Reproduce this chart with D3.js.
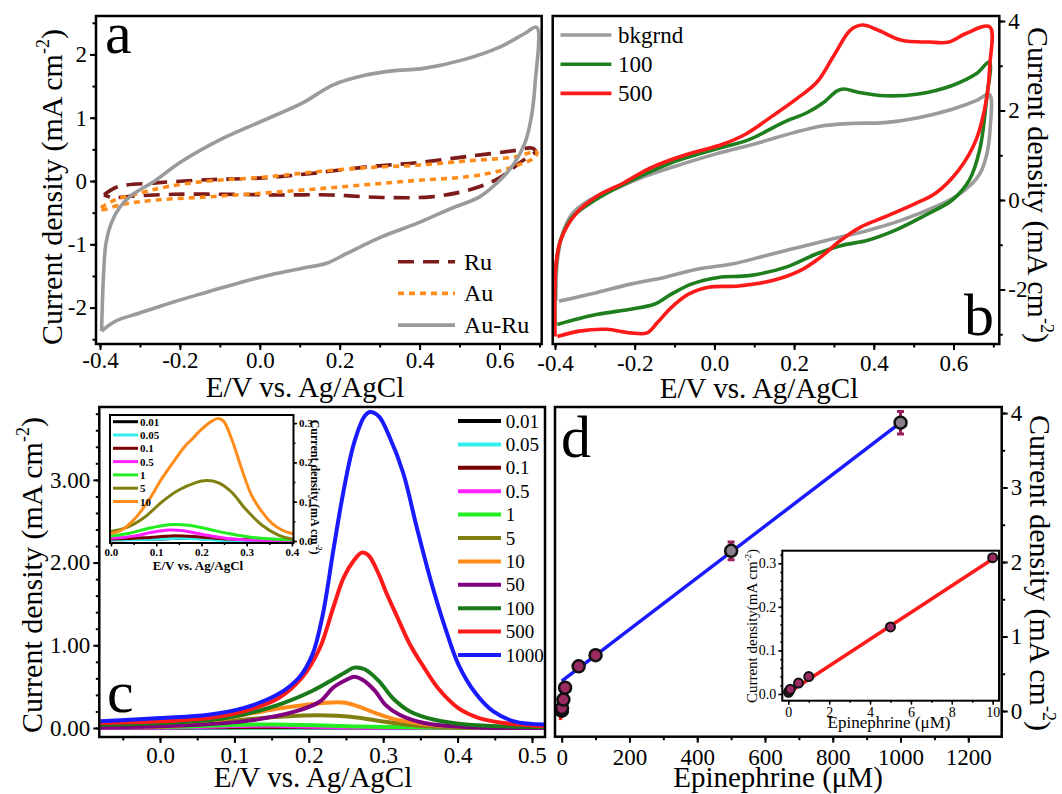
<!DOCTYPE html>
<html lang="en">
<head>
<meta charset="utf-8">
<title>Au-Ru CV / DPV of epinephrine</title>
<script src="https://cdn.jsdelivr.net/npm/d3@7/dist/d3.min.js"></script>
<style>
  body { margin: 0; background: #fff; }
  text { font-family: "Liberation Serif", "Times New Roman", serif; fill: #000; }
</style>
</head>
<body>
<script>

// ---------- data ----------

// panel a: CV loops, [E (V), j (mA cm-2)]
var cvRu = [[-0.39,-0.22],[-0.355,-0.09],[-0.26,-0.03],[-0.13,0.02],[0.01,0.05],[0.13,0.12],[0.263,0.22],
  [0.393,0.29],[0.523,0.39],[0.637,0.48],[0.68,0.52],[0.69,0.47],[0.66,0.33],[0.637,0.22],[0.6,0.05],
  [0.567,-0.05],[0.506,-0.17],[0.428,-0.25],[0.306,-0.26],[0.176,-0.22],[0.045,-0.22],[-0.085,-0.21],
  [-0.216,-0.21],[-0.32,-0.24],[-0.37,-0.26],[-0.39,-0.22]];
var cvAu = [[-0.398,-0.42],[-0.363,-0.3],[-0.3,-0.19],[-0.233,-0.09],[-0.129,0.0],[0.01,0.06],[0.132,0.14],
  [0.263,0.21],[0.393,0.25],[0.523,0.32],[0.637,0.38],[0.693,0.46],[0.69,0.38],[0.654,0.27],[0.6,0.16],
  [0.523,0.07],[0.393,0.01],[0.263,-0.06],[0.132,-0.13],[0.01,-0.19],[-0.129,-0.25],[-0.259,-0.3],
  [-0.346,-0.37],[-0.394,-0.45],[-0.398,-0.42]];
var cvAuRu = [[-0.396,-2.37],[-0.391,-1.46],[-0.385,-0.98],[-0.372,-0.67],[-0.35,-0.41],[-0.32,-0.22],
  [-0.263,0.0],[-0.198,0.3],[-0.094,0.67],[0.01,0.96],[0.106,1.23],[0.184,1.52],[0.263,1.67],[0.332,1.74],
  [0.41,1.78],[0.506,1.91],[0.602,2.12],[0.663,2.33],[0.693,2.43],[0.689,1.54],[0.68,1.02],[0.663,0.59],
  [0.637,0.28],[0.602,0.02],[0.55,-0.25],[0.48,-0.43],[0.393,-0.67],[0.306,-0.88],[0.219,-1.14],
  [0.167,-1.3],[0.106,-1.38],[0.028,-1.48],[-0.042,-1.59],[-0.129,-1.75],[-0.216,-1.91],[-0.303,-2.09],
  [-0.363,-2.22],[-0.396,-2.37]];
var cvANames = ["Ru", "Au", "Au-Ru"];

// panel b: CV with epinephrine
var cvBkgrnd = [[-0.398,-2.26],[-0.394,-1.35],[-0.381,-0.75],[-0.356,-0.3],[-0.313,0.0],[-0.254,0.23],
  [-0.186,0.49],[-0.1,0.75],[0.0,1.02],[0.112,1.28],[0.197,1.5],[0.266,1.65],[0.342,1.71],[0.427,1.73],
  [0.512,1.84],[0.597,2.03],[0.657,2.22],[0.69,2.36],[0.692,1.6],[0.683,1.0],[0.667,0.6],[0.645,0.35],
  [0.606,0.08],[0.555,-0.15],[0.47,-0.45],[0.385,-0.68],[0.3,-0.86],[0.215,-1.05],[0.13,-1.24],
  [0.044,-1.43],[-0.041,-1.54],[-0.126,-1.73],[-0.211,-1.88],[-0.296,-2.07],[-0.39,-2.26]];
var cv100 = [[-0.4,-2.82],[-0.398,-1.5],[-0.386,-0.9],[-0.356,-0.38],[-0.313,-0.08],[-0.254,0.23],
  [-0.186,0.53],[-0.1,0.86],[0.0,1.13],[0.087,1.35],[0.172,1.73],[0.232,1.95],[0.274,2.18],[0.308,2.44],
  [0.325,2.48],[0.36,2.41],[0.427,2.33],[0.512,2.37],[0.597,2.56],[0.657,2.82],[0.69,3.08],[0.683,2.26],
  [0.666,1.13],[0.64,0.45],[0.597,0.0],[0.538,-0.3],[0.453,-0.68],[0.385,-0.9],[0.317,-1.02],
  [0.257,-1.2],[0.18,-1.5],[0.087,-1.69],[0.01,-1.73],[-0.058,-1.88],[-0.109,-2.11],[-0.151,-2.33],
  [-0.211,-2.44],[-0.296,-2.56],[-0.394,-2.78]];
var cv500 = [[-0.4,-3.05],[-0.398,-1.5],[-0.386,-0.9],[-0.347,-0.3],[-0.296,0.08],[-0.228,0.38],
  [-0.169,0.68],[-0.109,0.9],[-0.041,1.09],[0.019,1.24],[0.078,1.47],[0.146,1.88],[0.206,2.26],
  [0.257,2.63],[0.3,3.23],[0.342,3.8],[0.372,3.91],[0.41,3.8],[0.47,3.57],[0.538,3.53],[0.589,3.53],
  [0.631,3.72],[0.691,3.87],[0.691,3.0],[0.683,2.26],[0.657,1.35],[0.614,0.68],[0.555,0.15],
  [0.504,-0.08],[0.427,-0.38],[0.368,-0.6],[0.317,-0.9],[0.266,-1.28],[0.215,-1.58],[0.146,-1.8],
  [0.061,-1.92],[-0.015,-1.95],[-0.066,-2.11],[-0.109,-2.41],[-0.143,-2.74],[-0.169,-2.97],
  [-0.211,-2.97],[-0.271,-2.89],[-0.339,-2.93],[-0.394,-3.05]];
var cvBNames = ["bkgrnd", "100", "500"];

// panel c: DPV at each epinephrine concentration (uM)
var dpv001 = [[-0.08,0.003],[0,0.003],[0.1,0.005],[0.16,0.007],[0.22,0.005],[0.3,0.002],[0.4,0.001],[0.52,0.0]];
var dpv005 = [[-0.08,0.002],[0,0.003],[0.11,0.005],[0.15,0.007],[0.2,0.005],[0.26,0.0],[0.32,-0.002],[0.4,0.0],[0.52,0.0]];
var dpv01 = [[-0.08,0.004],[0,0.005],[0.075,0.008],[0.134,0.013],[0.19,0.011],[0.26,0.005],[0.4,0.002],[0.52,0.0]];
var dpv05 = [[-0.08,0.006],[0,0.007],[0.053,0.013],[0.09,0.022],[0.127,0.028],[0.156,0.027],[0.2,0.017],
  [0.26,0.006],[0.4,0.0],[0.52,0.0]];
var dpv1 = [[-0.08,0.012],[0,0.013],[0.038,0.019],[0.075,0.03],[0.112,0.039],[0.142,0.042],[0.171,0.04],
  [0.208,0.032],[0.26,0.019],[0.319,0.008],[0.4,0.003],[0.52,0.001]];
var dpv5 = [[-0.08,0.02],[0,0.024],[0.038,0.036],[0.075,0.061],[0.112,0.099],[0.149,0.129],[0.186,0.148],
  [0.212,0.154],[0.238,0.148],[0.267,0.124],[0.297,0.082],[0.334,0.04],[0.37,0.015],[0.4,0.005],[0.52,0.002]];
var dpv10 = [[-0.08,0.015],[0,0.019],[0.024,0.028],[0.053,0.057],[0.083,0.103],[0.112,0.158],[0.142,0.208],
  [0.164,0.242],[0.179,0.259],[0.2,0.284],[0.223,0.305],[0.238,0.312],[0.249,0.305],[0.267,0.259],
  [0.289,0.183],[0.311,0.116],[0.334,0.074],[0.356,0.045],[0.378,0.028],[0.4,0.019],[0.52,0.005]];
var dpv50 = [[-0.08,0.01],[0,0.02],[0.112,0.08],[0.182,0.2],[0.215,0.32],[0.233,0.49],[0.252,0.59],
  [0.261,0.62],[0.271,0.59],[0.289,0.45],[0.303,0.28],[0.322,0.16],[0.355,0.06],[0.415,0.01],[0.52,0.0]];
var dpv100 = [[-0.08,0.04],[0,0.06],[0.089,0.12],[0.159,0.28],[0.205,0.45],[0.233,0.59],[0.252,0.69],
  [0.261,0.73],[0.275,0.71],[0.294,0.57],[0.313,0.36],[0.336,0.2],[0.369,0.1],[0.415,0.04],[0.52,0.01]];
var dpv500 = [[-0.08,0.06],[0,0.08],[0.065,0.12],[0.112,0.2],[0.159,0.36],[0.191,0.61],[0.215,0.97],
  [0.233,1.46],[0.247,1.82],[0.261,2.03],[0.271,2.12],[0.28,2.09],[0.294,1.86],[0.303,1.66],[0.317,1.38],
  [0.336,1.01],[0.355,0.73],[0.373,0.49],[0.401,0.24],[0.429,0.12],[0.462,0.06],[0.52,0.02]];
var dpv1000 = [[-0.08,0.08],[0,0.12],[0.065,0.16],[0.112,0.24],[0.159,0.41],[0.187,0.61],[0.205,0.89],
  [0.219,1.38],[0.233,2.15],[0.247,2.88],[0.261,3.45],[0.275,3.77],[0.282,3.82],[0.294,3.77],[0.308,3.53],
  [0.327,3.08],[0.345,2.43],[0.364,1.78],[0.383,1.22],[0.401,0.77],[0.425,0.41],[0.448,0.2],[0.476,0.08],[0.52,0.04]];
var dpvSeries = [dpv001, dpv005, dpv01, dpv05, dpv1, dpv5, dpv10, dpv50, dpv100, dpv500, dpv1000];
var dpvNames = ["0.01", "0.05", "0.1", "0.5", "1", "5", "10", "50", "100", "500", "1000"];
var insetCount = 7;   // the inset shows the first seven (0.01 .. 10 uM)

// panel d: calibration
var concUM = [0.01, 0.05, 0.1, 0.5, 1, 5, 10, 50, 100, 500, 1000];
var peakJ = [0.004, 0.007, 0.011, 0.025, 0.040, 0.154, 0.313, 0.60, 0.75, 2.15, 3.87];
var peakErr = [0, 0, 0, 0, 0, 0, 0, 0, 0, 0.12, 0.15];
var fitLow = { slope: 0.0307, intercept: 0.003 };
var fitHigh = { slope: 0.00347, intercept: 0.40 };
var fitLowRangeMain = [-4, 12], fitLowRangeInset = [0, 10], fitHighRange = [0, 1000];

// tick labels
var ticksCV = [-0.4, -0.2, 0.0, 0.2, 0.4, 0.6];
var ticksAy = [-2, -1, 0, 1, 2];
var ticksBy = [-2, 0, 2, 4];
var ticksCx = [0.0, 0.1, 0.2, 0.3, 0.4, 0.5];
var ticksCy = [0, 1, 2, 3];
var ticksCix = [0.0, 0.1, 0.2, 0.3, 0.4];
var ticksCiy = [0.0, 0.1, 0.2, 0.3];
var ticksDx = [0, 200, 400, 600, 800, 1000, 1200];
var ticksDy = [0, 1, 2, 3, 4];
var ticksDix = [0, 2, 4, 6, 8, 10];
var ticksDiy = [0.0, 0.1, 0.2, 0.3];

// ---------- styles ----------
var colA = ["#7d1a1a", "#ff8c1a", "#9b9b9b"];
var dashA = ["16,9", "6,5", null];
var colB = ["#9b9b9b", "#1f7f1f", "#ff1a1a"];
var colC = ["#000000", "#33eeee", "#7a0000", "#ff22ff", "#22ee22", "#808010", "#ff8c1a",
            "#800080", "#1a7a1a", "#ff1a1a", "#1a1aff"];

var svg = d3.select("body").append("svg")
  .attr("width", 1062).attr("height", 794);
svg.append("rect").attr("width", 1062).attr("height", 794).attr("fill", "#fff");
var defs = svg.append("defs");

function fmt(f) {
  var F = d3.format(f);
  return function(d) { return F(d).replace("\u2212", "-"); };
}
function minors(dom, step) {
  var lo = Math.ceil(Math.min(dom[0], dom[1]) / step), hi = Math.floor(Math.max(dom[0], dom[1]) / step);
  return d3.range(lo, hi + 1).map(function(i) { return +(i * step).toFixed(6); });
}

function panel(id, box, xDom, yDom, bg) {
  var p = { box: box };
  p.x = d3.scaleLinear().domain(xDom).range([box[0], box[2]]);
  p.y = d3.scaleLinear().domain(yDom).range([box[3], box[1]]);
  defs.append("clipPath").attr("id", "clip-" + id).append("rect")
    .attr("x", box[0]).attr("y", box[1]).attr("width", box[2] - box[0]).attr("height", box[3] - box[1]);
  p.g = svg.append("g");
  if (bg) {
    p.g.append("rect").attr("x", box[0]).attr("y", box[1])
      .attr("width", box[2] - box[0]).attr("height", box[3] - box[1]).attr("fill", "#fff");
  }
  p.plot = p.g.append("g").attr("clip-path", "url(#clip-" + id + ")");
  p.line = d3.line().x(function(d) { return p.x(d[0]); }).y(function(d) { return p.y(d[1]); })
    .curve(d3.curveCatmullRom.alpha(0.5));
  return p;
}

function frame(p, sw) {
  p.g.append("rect").attr("x", p.box[0]).attr("y", p.box[1])
    .attr("width", p.box[2] - p.box[0]).attr("height", p.box[3] - p.box[1])
    .attr("fill", "none").attr("stroke", "#000").attr("stroke-width", sw);
}

function axis(p, side, major, minorStep, format, o) {
  var sc = side == "bottom" ? p.x : p.y;
  var pos = side == "bottom" ? "translate(0," + p.box[3] + ")"
          : side == "left" ? "translate(" + p.box[0] + ",0)" : "translate(" + p.box[2] + ",0)";
  var make = side == "bottom" ? d3.axisBottom : side == "left" ? d3.axisLeft : d3.axisRight;
  var gMin = p.g.append("g").attr("transform", pos)
    .call(make(sc).tickValues(minors(sc.domain(), minorStep)).tickSize(o.minor).tickFormat(""));
  var gMaj = p.g.append("g").attr("transform", pos)
    .call(make(sc).tickValues(major).tickSize(o.major).tickPadding(o.pad).tickFormat(format));
  [gMin, gMaj].forEach(function(a) {
    a.select(".domain").remove();
    a.attr("font-family", null).attr("font-size", null);
    a.selectAll("line").attr("stroke", "#000").attr("stroke-width", o.sw);
  });
  gMaj.selectAll("text").attr("fill", "#000")
    .style("font-size", o.font + "px").style("font-weight", o.bold ? "bold" : "normal");
}

function text(g, x, y, str, size, anchor, weight) {
  return g.append("text").attr("x", x).attr("y", y).text(str)
    .attr("text-anchor", anchor || "start")
    .style("font-size", size + "px").style("font-weight", weight || "normal");
}

function cdTitle(g, x, y, rot, size, weight, gap) {
  var t = g.append("text").attr("transform", "translate(" + x + "," + y + ") rotate(" + rot + ")")
    .attr("text-anchor", "middle").style("font-size", size + "px").style("font-weight", weight);
  t.append("tspan").text("Current density" + gap + "(mA cm");
  t.append("tspan").attr("dy", -0.42 * size).style("font-size", (0.6 * size) + "px").text("-2");
  t.append("tspan").attr("dy", 0.42 * size).text(")");
}

var bigAxis = { major: 6, minor: 3.5, pad: 3, sw: 2, font: 23 };

// ---------- panel a ----------
var pa = panel("a", [96, 16, 541.7, 344], [-0.41, 0.7056], [-2.575, 2.607]);
[cvRu, cvAu, cvAuRu].forEach(function(s, i) {
  pa.plot.append("path").datum(s).attr("d", pa.line)
    .attr("fill", "none").attr("stroke", colA[i]).attr("stroke-width", 3.6)
    .attr("stroke-dasharray", dashA[i]);
});
axis(pa, "bottom", ticksCV, 0.1, fmt(".1f"), { major: 6, minor: 3.5, pad: 2, sw: 2, font: 23 });
axis(pa, "left", ticksAy, 0.5, fmt("d"), bigAxis);
frame(pa, 2.5);
cvANames.forEach(function(n, i) {
  var yy = pa.y(0) + 80.7 + i * 31.7;
  pa.g.append("line").attr("x1", 398).attr("x2", 455).attr("y1", yy).attr("y2", yy)
    .attr("stroke", colA[i]).attr("stroke-width", 3.6).attr("stroke-dasharray", dashA[i]);
  text(pa.g, 464, yy + 8, n, 24);
});
text(pa.g, 105, 53, "a", 60);
cdTitle(pa.g, 62, 187, -90, 30, "normal", " ");
text(pa.g, 305, 397, "E/V vs. Ag/AgCl", 29, "middle");

// ---------- panel b ----------
var pb = panel("b", [552.7, 16, 999.3, 344], [-0.4058, 0.715], [-3.218, 4.112]);
[cvBkgrnd, cv100, cv500].forEach(function(s, i) {
  pb.plot.append("path").datum(s).attr("d", pb.line)
    .attr("fill", "none").attr("stroke", colB[i]).attr("stroke-width", 3.6);
});
axis(pb, "bottom", ticksCV, 0.1, fmt(".1f"), { major: 6, minor: 3.5, pad: 5, sw: 2, font: 23 });
axis(pb, "right", ticksBy, 1, fmt("d"), bigAxis);
frame(pb, 2.5);
cvBNames.forEach(function(n, i) {
  var yy = 35 + i * 29.2;
  pb.g.append("line").attr("x1", 560.5).attr("x2", 611.4).attr("y1", yy).attr("y2", yy)
    .attr("stroke", colB[i]).attr("stroke-width", 3.6);
  text(pb.g, 618, yy + 8, n, 23);
});
text(pb.g, 994, 335, "b", 60, "end");
cdTitle(pb.g, 1028, 185, 90, 30, "normal", " ");
text(pb.g, 759, 398, "E/V vs. Ag/AgCl", 29, "middle");

// ---------- panel c ----------
var pc = panel("c", [99.3, 407, 545, 737], [-0.0816, 0.5175], [-0.109, 3.881]);
dpvSeries.forEach(function(s, i) {
  pc.plot.append("path").datum(s).attr("d", pc.line)
    .attr("fill", "none").attr("stroke", colC[i]).attr("stroke-width", 4);
});
axis(pc, "bottom", ticksCx, 0.05, fmt(".1f"), { major: 6, minor: 3.5, pad: 4, sw: 2, font: 23 });
axis(pc, "left", ticksCy, 0.2, fmt(".2f"), bigAxis);
frame(pc, 2.5);
dpvNames.forEach(function(n, i) {
  var yy = 421 + i * 23.4;
  pc.g.append("line").attr("x1", 458).attr("x2", 501).attr("y1", yy).attr("y2", yy)
    .attr("stroke", colC[i]).attr("stroke-width", 4);
  text(pc.g, 505.7, yy + 6.5, n, 19);
});
text(pc.g, 107, 712, "c", 60);
cdTitle(pc.g, 42, 575, -90, 30, "normal", " ");
text(pc.g, 313, 787, "E/V vs. Ag/AgCl", 29, "middle");

// inset of panel c
var pci = panel("ci", [110, 415, 293.5, 543], [-0.0022, 0.4035], [-0.0051, 0.3206], true);
dpvSeries.slice(0, insetCount).forEach(function(s, i) {
  pci.plot.append("path").datum(s).attr("d", pci.line)
    .attr("fill", "none").attr("stroke", colC[i]).attr("stroke-width", 3);
});
var smallAxis = { major: 3.5, minor: 2, pad: 2, sw: 1.5, font: 11, bold: true };
axis(pci, "bottom", ticksCix, 0.05, fmt(".1f"), smallAxis);
axis(pci, "right", ticksCiy, 0.05, fmt(".1f"), smallAxis);
frame(pci, 2);
dpvNames.slice(0, insetCount).forEach(function(n, i) {
  var yy = 421.7 + i * 13.3;
  pci.g.append("line").attr("x1", 113).attr("x2", 138).attr("y1", yy).attr("y2", yy)
    .attr("stroke", colC[i]).attr("stroke-width", 3);
  text(pci.g, 140, yy + 4, n, 11, "start", "bold");
});
cdTitle(pci.g, 311, 487, 90, 12, "bold", " ");
text(pci.g, 198, 570, "E/V vs. Ag/AgCl", 13, "middle", "bold");

// ---------- panel d ----------
var pd = panel("d", [555, 407, 1001.7, 736.7], [-19.78, 1298.6], [-0.345, 4.081]);
var fitLine = function(p, f, r) {
  return [[r[0], f.intercept + f.slope * r[0]], [r[1], f.intercept + f.slope * r[1]]].map(function(d) {
    return [p.x(d[0]), p.y(d[1])];
  });
};
pd.plot.append("path").attr("d", d3.line()(fitLine(pd, fitLow, fitLowRangeMain)))
  .attr("stroke", "#ff1a1a").attr("stroke-width", 3.5).attr("fill", "none");
pd.plot.append("path").attr("d", d3.line()(fitLine(pd, fitHigh, fitHighRange)))
  .attr("stroke", "#1a1aff").attr("stroke-width", 3.5).attr("fill", "none");
var pts = concUM.map(function(c, i) { return { c: c, j: peakJ[i], e: peakErr[i] }; });
var eb = pd.plot.selectAll(".eb").data(pts.filter(function(d) { return d.e > 0; })).enter().append("g");
eb.append("line")
  .attr("x1", function(d) { return pd.x(d.c); }).attr("x2", function(d) { return pd.x(d.c); })
  .attr("y1", function(d) { return pd.y(d.j - d.e); }).attr("y2", function(d) { return pd.y(d.j + d.e); })
  .attr("stroke", "#9b1f5e").attr("stroke-width", 3);
[-1, 1].forEach(function(s) {
  eb.append("line")
    .attr("x1", function(d) { return pd.x(d.c) - 3.5; }).attr("x2", function(d) { return pd.x(d.c) + 3.5; })
    .attr("y1", function(d) { return pd.y(d.j + s * d.e); }).attr("y2", function(d) { return pd.y(d.j + s * d.e); })
    .attr("stroke", "#9b1f5e").attr("stroke-width", 3);
});
pd.plot.selectAll(".pt").data(pts).enter().append("circle")
  .attr("cx", function(d) { return pd.x(d.c); }).attr("cy", function(d) { return pd.y(d.j); })
  .attr("r", 6).attr("fill", function(d) { return d.c >= 500 ? "#8c7f8c" : "#9b2a62"; })
  .attr("stroke", "#111").attr("stroke-width", 2.5);
axis(pd, "bottom", ticksDx, 100, fmt("d"), { major: 6, minor: 3.5, pad: 6, sw: 2, font: 23 });
axis(pd, "right", ticksDy, 0.5, fmt("d"), bigAxis);
frame(pd, 2.5);
text(pd.g, 561, 457, "d", 60);
cdTitle(pd.g, 1030, 573, 90, 30, "normal", " ");
text(pd.g, 778, 787, "Epinephrine (\u03bcM)", 29, "middle");

// inset of panel d
var pdi = panel("di", [782.3, 550.7, 999, 700.7], [-0.2935, 10.31], [-0.0154, 0.3289], true);
pdi.plot.append("path").attr("d", d3.line()(fitLine(pdi, fitLow, fitLowRangeInset)))
  .attr("stroke", "#ff1a1a").attr("stroke-width", 3.5).attr("fill", "none");
pdi.plot.selectAll(".pt").data(pts.filter(function(d) { return d.c <= 10; })).enter().append("circle")
  .attr("cx", function(d) { return pdi.x(d.c); }).attr("cy", function(d) { return pdi.y(d.j); })
  .attr("r", 4.5).attr("fill", "#9b2a62").attr("stroke", "#111").attr("stroke-width", 2);
var insetAxis = { major: 4, minor: 2, pad: 2, sw: 1.5, font: 14 };
axis(pdi, "bottom", ticksDix, 1, fmt("d"), insetAxis);
axis(pdi, "left", ticksDiy, 0.02, fmt(".1f"), insetAxis);
frame(pdi, 2);
cdTitle(pdi.g, 757, 626, -90, 15, "normal", "");
text(pdi.g, 889, 728, "Epinephrine (\u03bcM)", 17, "middle");

</script>
</body>
</html>
